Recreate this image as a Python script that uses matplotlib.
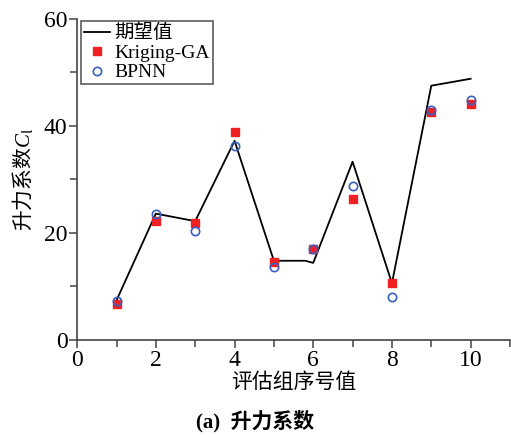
import numpy as np
import matplotlib
matplotlib.use('Agg')
import matplotlib.pyplot as plt
from matplotlib.ticker import MultipleLocator

plt.rcParams['font.family'] = ['Liberation Serif', 'Noto Sans CJK SC']
plt.rcParams['mathtext.fontset'] = 'custom'
plt.rcParams['mathtext.it'] = 'Liberation Serif:italic'
plt.rcParams['mathtext.rm'] = 'Liberation Serif'

# data
groups = [1, 2, 3, 4, 5, 6, 7, 8, 9, 10]
expected_x = [1, 2, 3, 4, 5, 5.8, 6, 7, 8, 9, 10]
expected = [7.4, 23.6, 22.2, 37.2, 14.8, 14.8, 14.4, 33.3, 10.6, 47.5, 48.8]
kriging_ga = [6.7, 22.2, 21.8, 38.9, 14.5, 17.0, 26.4, 10.6, 42.5, 44.0]
bpnn = [7.3, 23.6, 20.3, 36.2, 13.6, 17.0, 28.7, 8.1, 43.0, 44.9]

fig = plt.figure(figsize=(5.11, 4.37), dpi=100)
ax = fig.add_axes([0.151, 0.222, 0.847, 0.735])

ax.plot(expected_x, expected, color='k', lw=1.3, label='期望值')
ax.plot(groups, kriging_ga, 's', color='#ee2024', ms=6, mec='#ee2024', label='Kriging-GA')
ax.plot(groups, bpnn, 'o', mfc='none', mec='#3a5fc0', mew=1.2, ms=6, label='BPNN')

ax.set_xlim(0, 11)
ax.set_ylim(0, 60)
ax.xaxis.set_major_locator(MultipleLocator(2))
ax.xaxis.set_minor_locator(MultipleLocator(1))
ax.yaxis.set_major_locator(MultipleLocator(20))
ax.yaxis.set_minor_locator(MultipleLocator(10))
for s in ['top', 'right']:
    ax.spines[s].set_visible(False)
for s in ['left', 'bottom']:
    ax.spines[s].set_color('#444444')
    ax.spines[s].set_linewidth(1.2)
ax.tick_params(which='both', direction='out', color='#444444', width=1.1, labelsize=17, pad=1)
ax.tick_params(which='major', length=6)
ax.tick_params(which='minor', length=5)

ax.set_xlabel('评估组序号值', fontsize=15, labelpad=0, family=['Noto Sans CJK SC'], fontweight='light')
ax.set_ylabel('升力系数$C_\\mathregular{l}$', fontsize=15, labelpad=6, family=['Noto Sans CJK SC'], fontweight='light')

leg = ax.legend(loc='upper left', bbox_to_anchor=(0.005, 1.0), fontsize=14, frameon=True, fancybox=False,
                edgecolor='#333333', handlelength=1.35, handletextpad=0.2, borderpad=0.15,
                labelspacing=0.1, borderaxespad=0.1)
leg.get_frame().set_linewidth(1.2)

fig.text(0.5, 0.035, '(a)  升力系数', ha='center', va='center', fontsize=15, fontweight='bold',
         family=['Liberation Serif', 'Noto Sans CJK SC'])

fig.savefig('out.png', dpi=100)
